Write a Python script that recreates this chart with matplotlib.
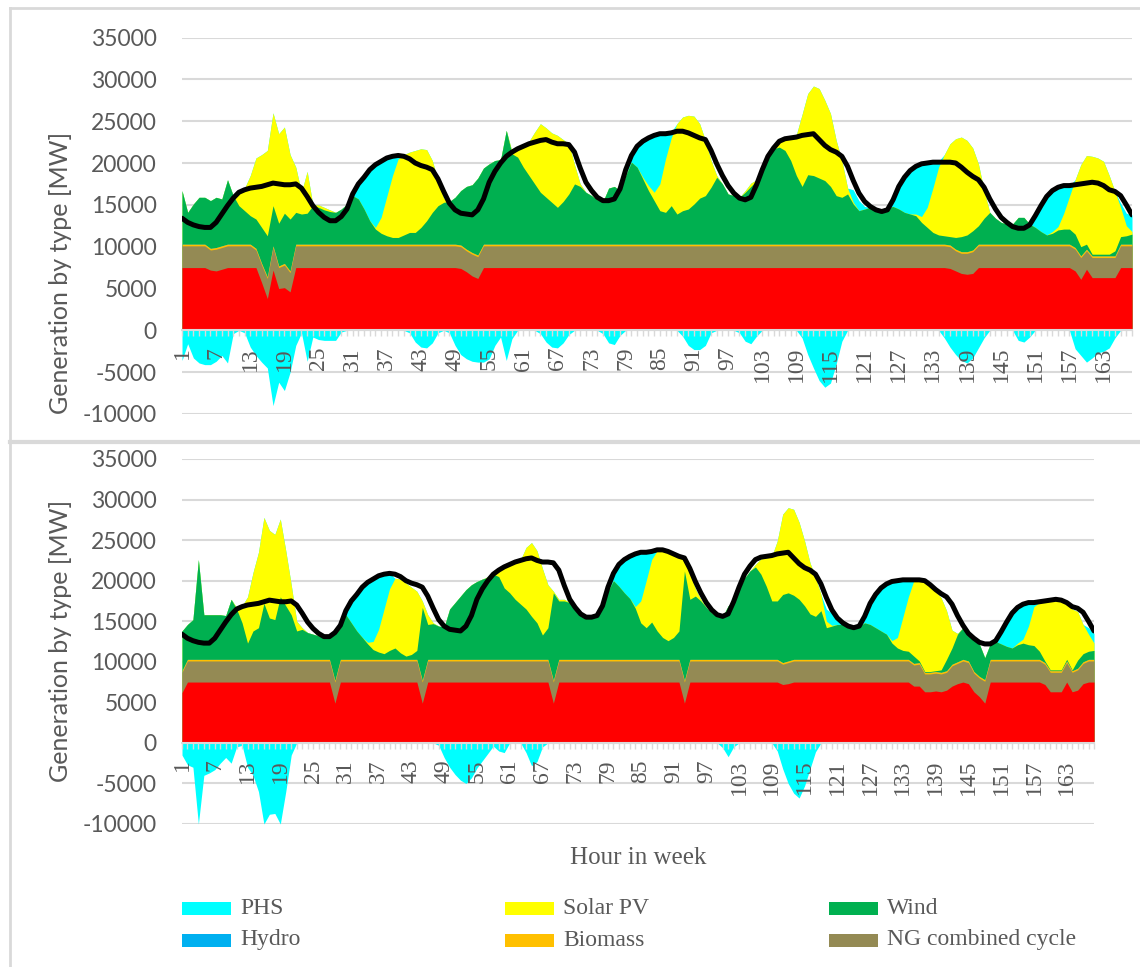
import numpy as np
import matplotlib
matplotlib.use("Agg")
import matplotlib.pyplot as plt
from matplotlib.patches import Rectangle
from matplotlib.lines import Line2D

W, H, DPI = 1140, 967, 100

hours = list(range(1, 169))
tick_hours = list(range(1, 169, 6))
y_ticks = list(range(-10000, 35001, 5000))

# Hourly demand (MW), same week for both scenarios
demand = [
    13400, 12900, 12600, 12400, 12300, 12300, 12900, 13900, 14900, 15800, 16500, 16800,
    17000, 17100, 17200, 17400, 17600, 17500, 17400, 17400, 17500, 17000, 16000, 14900,
    14100, 13500, 13100, 13100, 13600, 14500, 16300, 17500, 18300, 19200, 19800, 20200,
    20600, 20800, 20900, 20800, 20500, 20000, 19700, 19500, 19200, 18100, 16600, 15200,
    14400, 14000, 13900, 13800, 14400, 15700, 17700, 19000, 20000, 20800, 21300, 21700,
    22000, 22300, 22500, 22700, 22800, 22500, 22300, 22300, 22200, 21300, 19400, 17700,
    16700, 15900, 15500, 15500, 15700, 16900, 19200, 20900, 22000, 22600, 23000, 23300,
    23500, 23500, 23600, 23800, 23800, 23600, 23300, 23000, 22800, 21500, 19900, 18500,
    17300, 16400, 15800, 15600, 15900, 17400, 19200, 20800, 21800, 22600, 22900, 23000,
    23100, 23300, 23400, 23500, 22800, 22100, 21600, 21300, 20800, 19600, 17900, 16400,
    15400, 14800, 14400, 14200, 14400, 15600, 17200, 18300, 19100, 19600, 19900, 20000,
    20100, 20100, 20100, 20100, 20000, 19500, 18900, 18400, 18000, 17100, 15700, 14500,
    13500, 12900, 12400, 12200, 12200, 12600, 13700, 14900, 16000, 16700, 17100, 17300,
    17300, 17400, 17500, 17600, 17700, 17600, 17300, 16800, 16600, 16100, 15000, 13800,
]

biomass = [200] * 168
hydro = [0] * 168

# ---------------- Scenario A (upper chart) ----------------
nuclear_a = [
    7500, 7500, 7500, 7500, 7500, 7200, 7100, 7300, 7500, 7500, 7500, 7500,
    7500, 7500, 5700, 3800, 7200, 5000, 5100, 4600, 7500, 7500, 7500, 7500,
    7500, 7500, 7500, 7500, 7500, 7500, 7500, 7500, 7500, 7500, 7500, 7500,
    7500, 7500, 7500, 7500, 7500, 7500, 7500, 7500, 7500, 7500, 7500, 7500,
    7500, 7400, 7000, 6500, 6200, 7500, 7500, 7500, 7500, 7500, 7500, 7500,
    7500, 7500, 7500, 7500, 7500, 7500, 7500, 7500, 7500, 7500, 7500, 7500,
    7500, 7500, 7500, 7500, 7500, 7500, 7500, 7500, 7500, 7500, 7500, 7500,
    7500, 7500, 7500, 7500, 7500, 7500, 7500, 7500, 7500, 7500, 7500, 7500,
    7500, 7500, 7500, 7500, 7500, 7500, 7500, 7500, 7500, 7500, 7500, 7500,
    7500, 7500, 7500, 7500, 7500, 7500, 7500, 7500, 7500, 7500, 7500, 7500,
    7500, 7500, 7500, 7500, 7500, 7500, 7500, 7500, 7500, 7500, 7500, 7500,
    7500, 7500, 7500, 7400, 7100, 6800, 6700, 6800, 7500, 7500, 7500, 7500,
    7500, 7500, 7500, 7500, 7500, 7500, 7500, 7500, 7500, 7500, 7500, 7500,
    7500, 7100, 6100, 7300, 6300, 6300, 6300, 6300, 6300, 7500, 7500, 7500,
]
ng_a = [
    2600, 2600, 2600, 2600, 2600, 2400, 2600, 2600, 2600, 2600, 2600, 2600,
    2600, 2100, 2100, 2400, 2700, 2500, 2700, 2300, 2600, 2600, 2600, 2600,
    2600, 2600, 2600, 2600, 2600, 2600, 2600, 2600, 2600, 2600, 2600, 2600,
    2600, 2600, 2600, 2600, 2600, 2600, 2600, 2600, 2600, 2600, 2600, 2600,
    2600, 2600, 2500, 2600, 2600, 2600, 2600, 2600, 2600, 2600, 2600, 2600,
    2600, 2600, 2600, 2600, 2600, 2600, 2600, 2600, 2600, 2600, 2600, 2600,
    2600, 2600, 2600, 2600, 2600, 2600, 2600, 2600, 2600, 2600, 2600, 2600,
    2600, 2600, 2600, 2600, 2600, 2600, 2600, 2600, 2600, 2600, 2600, 2600,
    2600, 2600, 2600, 2600, 2600, 2600, 2600, 2600, 2600, 2600, 2600, 2600,
    2600, 2600, 2600, 2600, 2600, 2600, 2600, 2600, 2600, 2600, 2600, 2600,
    2600, 2600, 2600, 2600, 2600, 2600, 2600, 2600, 2600, 2600, 2600, 2600,
    2600, 2600, 2600, 2600, 2400, 2400, 2500, 2600, 2600, 2600, 2600, 2600,
    2600, 2600, 2600, 2600, 2600, 2600, 2600, 2600, 2600, 2600, 2600, 2600,
    2600, 2600, 2600, 2200, 2400, 2400, 2400, 2400, 2400, 2600, 2600, 2600,
]
wind_a = [
    6400, 3800, 4800, 5600, 5600, 5700, 6000, 5600, 7700, 5800, 4600, 4000,
    3400, 3500, 4300, 4900, 4800, 5100, 6000, 6200, 3800, 3600, 3700, 4600,
    4400, 4100, 3900, 3800, 4200, 4800, 5800, 5400, 4200, 2800, 1800, 1300,
    1000, 800, 800, 1100, 1400, 1400, 2000, 2800, 3800, 4600, 5000, 5100,
    5600, 6500, 7500, 8100, 9200, 9100, 9600, 10000, 10100, 13600, 10800, 10400,
    9200, 8200, 7200, 6200, 5600, 5000, 4400, 5100, 6000, 7200, 6900, 6200,
    5800, 5300, 5100, 6700, 6900, 6400, 8200, 9800, 9200, 7800, 6400, 5200,
    4000, 3800, 4600, 3600, 4000, 4200, 4800, 5500, 5800, 6800, 8000, 7200,
    6000, 5800, 5600, 6200, 6900, 7600, 9200, 10500, 11400, 11600, 11200, 10000,
    8200, 6900, 8300, 8200, 7900, 7600, 6900, 5800, 5600, 6000, 4800, 4000,
    4200, 4400, 4200, 4200, 4400, 4500, 4200, 3800, 3600, 3400, 2600, 2000,
    1400, 1100, 1000, 1000, 1400, 1800, 2000, 2300, 2200, 3100, 3800, 3100,
    2600, 2400, 2400, 3200, 3200, 2400, 2000, 1500, 1100, 1300, 1700, 1800,
    1800, 1600, 1100, 600, 200, 200, 200, 200, 600, 900, 1000, 1200,
]
solar_a = [
    0, 0, 0, 0, 0, 0, 0, 0, 0, 0, 1400, 2700,
    4800, 7300, 8700, 10200, 11100, 10700, 10300, 7700, 5400, 2600, 5000, 100,
    300, 300, 200, 0, 0, 0, 0, 0, 0, 0, 200, 1900,
    4700, 7400, 9400, 9600, 9600, 9800, 9400, 8500, 6200, 3000, 500, 0,
    0, 0, 0, 0, 0, 0, 0, 0, 0, 0, 300, 1100,
    2600, 4100, 6200, 8200, 8300, 8300, 8600, 7400, 6000, 2300, 300, 0,
    0, 0, 0, 0, 0, 0, 0, 0, 0, 200, 600, 1000,
    3200, 6400, 8100, 10800, 11200, 11200, 10500, 8900, 6600, 3200, 200, 0,
    0, 0, 0, 200, 400, 100, 0, 0, 0, 600, 1400, 2900,
    4900, 8600, 9700, 10700, 10700, 9600, 8700, 6600, 4400, 700, 200, 0,
    0, 0, 0, 0, 0, 0, 0, 0, 0, 200, 700, 2400,
    5300, 8100, 9700, 11100, 11800, 11900, 11300, 9900, 7400, 3300, 0, 0,
    0, 0, 0, 0, 0, 0, 0, 0, 0, 200, 400, 1900,
    3900, 6500, 9800, 10600, 11700, 11500, 11100, 9400, 7100, 3500, 1200, 300,
]
phs_a = [
    -3600, -1600, -3300, -3900, -4100, -4100, -3700, -3000, -3900, -400, 0, -300,
    -2000, -3000, -3800, -4500, -9000, -6200, -7200, -5000, -1800, -300, -3700, -800,
    -1100, -1200, -1200, -1200, -200, 0, 0, 1800, 3800, 6000, 7400, 6600,
    4500, 2300, 400, 0, -300, -1400, -2000, -2100, -1500, -300, 0, -300,
    -1800, -2900, -3400, -3700, -3800, -3800, -3400, -1800, -800, -3600, -1000, 0,
    0, 0, 0, -400, -1400, -2000, -2100, -1500, -500, 0, 0, 0,
    0, 0, -400, -1500, -1700, -600, 0, 800, 2600, 4400, 5800, 6900,
    6000, 3000, 700, 0, -700, -1800, -2300, -2300, -1800, -300, 0, 0,
    0, 0, -300, -1300, -1600, -700, 0, 0, 0, 0, 0, 0,
    0, -900, -2900, -4500, -6000, -6800, -6300, -4000, -1300, 0, 1500, 1200,
    300, 0, 0, 0, 0, 1300, 3000, 4400, 5200, 5700, 6300, 5400,
    3200, 700, -900, -2000, -2900, -3600, -3900, -3300, -2100, -900, 0, 0,
    0, 0, 0, -1200, -1400, -800, 1600, 3300, 4700, 5000, 4800, 3300,
    1300, -2200, -3000, -3800, -3300, -2700, -2500, -2100, -900, 500, 1500, 2000,
]

# ---------------- Scenario B (lower chart) ----------------
nuclear_b = [
    6200, 7500, 7500, 7500, 7500, 7500, 7500, 7500, 7500, 7500, 7500, 7500,
    7500, 7500, 7500, 7500, 7500, 7500, 7500, 7500, 7500, 7500, 7500, 7500,
    7500, 7500, 7500, 7500, 4900, 7500, 7500, 7500, 7500, 7500, 7500, 7500,
    7500, 7500, 7500, 7500, 7500, 7500, 7500, 7500, 4900, 7500, 7500, 7500,
    7500, 7500, 7500, 7500, 7500, 7500, 7500, 7500, 7500, 7500, 7500, 7500,
    7500, 7500, 7500, 7500, 7500, 7500, 7500, 7500, 4900, 7500, 7500, 7500,
    7500, 7500, 7500, 7500, 7500, 7500, 7500, 7500, 7500, 7500, 7500, 7500,
    7500, 7500, 7500, 7500, 7500, 7500, 7500, 7500, 4900, 7500, 7500, 7500,
    7500, 7500, 7500, 7500, 7500, 7500, 7500, 7500, 7500, 7500, 7500, 7500,
    7500, 7500, 7200, 7300, 7500, 7500, 7500, 7500, 7500, 7500, 7500, 7500,
    7500, 7500, 7500, 7500, 7500, 7500, 7500, 7500, 7500, 7500, 7500, 7500,
    7500, 7500, 7000, 7000, 6300, 6300, 6400, 6300, 6500, 7000, 7300, 7500,
    7300, 6300, 5700, 4900, 7500, 7500, 7500, 7500, 7500, 7500, 7500, 7500,
    7500, 7500, 7200, 6300, 6300, 6300, 7500, 6300, 6500, 7300, 7500, 7500,
]
ng_b = [
    2500, 2600, 2600, 2600, 2600, 2600, 2600, 2600, 2600, 2600, 2600, 2600,
    2600, 2600, 2600, 2600, 2600, 2600, 2600, 2600, 2600, 2600, 2600, 2600,
    2600, 2600, 2600, 2600, 2600, 2600, 2600, 2600, 2600, 2600, 2600, 2600,
    2600, 2600, 2600, 2600, 2600, 2600, 2600, 2600, 2600, 2600, 2600, 2600,
    2600, 2600, 2600, 2600, 2600, 2600, 2600, 2600, 2600, 2600, 2600, 2600,
    2600, 2600, 2600, 2600, 2600, 2600, 2600, 2600, 2600, 2600, 2600, 2600,
    2600, 2600, 2600, 2600, 2600, 2600, 2600, 2600, 2600, 2600, 2600, 2600,
    2600, 2600, 2600, 2600, 2600, 2600, 2600, 2600, 2600, 2600, 2600, 2600,
    2600, 2600, 2600, 2600, 2600, 2600, 2600, 2600, 2600, 2600, 2600, 2600,
    2600, 2600, 2500, 2600, 2600, 2600, 2600, 2600, 2600, 2600, 2600, 2600,
    2600, 2600, 2600, 2600, 2600, 2600, 2600, 2600, 2600, 2600, 2600, 2600,
    2600, 2600, 2600, 2700, 2200, 2200, 2200, 2200, 2200, 2500, 2500, 2600,
    2600, 2300, 2300, 2700, 2600, 2600, 2600, 2600, 2600, 2600, 2600, 2600,
    2600, 2600, 2500, 2400, 2400, 2400, 2400, 2400, 2500, 2500, 2600, 2600,
]
wind_b = [
    4900, 4300, 4900, 12300, 5500, 5500, 5500, 5500, 5400, 7400, 6200, 4500,
    2000, 3500, 3900, 6900, 5100, 4900, 7700, 6600, 5500, 3500, 3700, 3300,
    3100, 2900, 2800, 2800, 5700, 3900, 5500, 4500, 3500, 2700, 1900, 1200,
    900, 700, 1100, 1400, 800, 400, 600, 1100, 9000, 4300, 4400, 4100,
    4000, 6200, 7000, 7800, 8600, 9200, 9600, 9900, 10100, 10500, 10200, 8800,
    8200, 7400, 6800, 6200, 5300, 4500, 3000, 3900, 10800, 7200, 7200, 7000,
    6400, 5600, 5300, 5200, 5500, 6400, 8400, 9700, 9000, 8200, 7500, 6300,
    4500, 3900, 4600, 3500, 2700, 2300, 2700, 3500, 13500, 7400, 7800, 7200,
    6400, 5700, 5300, 5300, 6600, 7200, 8600, 10000, 10900, 11400, 10500, 9000,
    7200, 7200, 8400, 8400, 7900, 7400, 6600, 5600, 5300, 6000, 3900, 4100,
    4300, 4300, 4100, 3900, 4100, 4500, 4300, 3900, 3500, 3100, 2000, 1400,
    1100, 1000, 900, 200, 100, 100, 100, 300, 1400, 2000, 3400, 3900,
    3700, 4200, 4000, 2700, 1900, 2200, 1900, 1600, 1400, 1800, 2000, 1800,
    1700, 1000, 200, 100, 100, 100, 200, 100, 1000, 1000, 1000, 1100,
]
solar_b = [
    0, 0, 0, 0, 0, 0, 0, 0, 0, 0, 200, 2100,
    5700, 7200, 9300, 10600, 10800, 10500, 9600, 6800, 3700, 1200, 200, 0,
    0, 0, 0, 0, 0, 0, 0, 0, 0, 0, 200, 1000,
    2800, 5500, 7600, 8600, 9100, 9000, 8300, 7300, 800, 1200, 100, 0,
    0, 0, 0, 0, 0, 0, 0, 0, 100, 300, 1000, 2700,
    3600, 4700, 5500, 7600, 9100, 8900, 8200, 5300, 200, 200, 200, 0,
    0, 0, 0, 0, 0, 0, 0, 0, 0, 0, 0, 200,
    2700, 5800, 7700, 9900, 10900, 11100, 10300, 9100, 1400, 3300, 900, 200,
    0, 0, 0, 0, 0, 0, 0, 0, 0, 300, 1900, 3500,
    5500, 7400, 9900, 10500, 10600, 9500, 8000, 6300, 4800, 2000, 800, 100,
    0, 0, 0, 0, 0, 0, 0, 0, 0, 0, 300, 1300,
    4100, 6700, 9300, 10000, 11200, 10500, 9800, 8900, 6000, 2200, 100, 0,
    0, 0, 0, 0, 0, 0, 0, 0, 0, 200, 500, 2300,
    4800, 6000, 7200, 8500, 8500, 8500, 6900, 7500, 6000, 3600, 2100, 900,
]
phs_b = [
    -1500, -2700, -3000, -10000, -4000, -3700, -3300, -2500, -1800, -2500, -500, -300,
    -3000, -4000, -6000, -10000, -8800, -8700, -10000, -6000, -1500, 0, 0, 0,
    0, 0, 0, 0, 0, 0, 700, 2700, 4600, 6300, 7500, 7800,
    6700, 4400, 1900, 0, 0, 0, 0, 0, 0, 0, 0, -300,
    -1800, -3000, -3900, -4600, -5000, -4300, -3100, -2200, -1300, -400, -1000, -1200,
    0, 0, 0, -1200, -2800, -2300, -500, 0, 0, 0, 0, 0,
    0, 0, 0, 0, 0, 0, 600, 1000, 2700, 4100, 5200, 6500,
    6000, 3500, 1000, 0, 0, 0, 0, 0, 0, 0, 0, 0,
    0, 0, 0, -600, -1700, -500, 0, 0, 0, 0, 0, 0,
    0, -1000, -3200, -5000, -6200, -6800, -5300, -3200, -1100, 0, 1500, 1500,
    500, 0, 0, 0, 0, 400, 2300, 4000, 5300, 6200, 7300, 7000,
    4500, 2000, 0, 0, 0, 0, 0, 0, 0, 0, 0, 0,
    0, 0, 0, 0, 0, 100, 1400, 2900, 4100, 4300, 4300, 2800,
    500, 0, 0, 0, 0, 0, 0, 0, 0, 0, 800, 1200,
]

legend_labels = ["PHS", "Solar PV", "Wind", "Hydro", "Biomass", "NG combined cycle"]

C_NUC = "#FF0000"
C_NG = "#948A54"
C_BIO = "#FFC000"
C_HYD = "#00B0F0"
C_WIND = "#00B050"
C_SOLAR = "#FFFF00"
C_PHS = "#00FFFF"
GRID = "#D9D9D9"
TXT = "#595959"

legend_colors = [C_PHS, C_SOLAR, C_WIND, C_HYD, C_BIO, C_NG]

fig = plt.figure(figsize=(W / DPI, H / DPI), dpi=DPI)


def px_box(x0, x1, y_top, y_bot):
    return [x0 / W, 1 - y_bot / H, (x1 - x0) / W, (y_bot - y_top) / H]


def draw_week(ax, nuclear, ng, wind, solar, phs):
    x = np.array(hours)
    phs_arr = np.array(phs, float)
    layers = [nuclear, ng, biomass, hydro, wind, solar, np.clip(phs_arr, 0, None)]
    colors = [C_NUC, C_NG, C_BIO, C_HYD, C_WIND, C_SOLAR, C_PHS]
    tops = np.cumsum(np.array(layers, float), axis=0)
    # paint from the top of the stack downward so adjacent layers share no seams
    for top, c in reversed(list(zip(tops, colors))):
        ax.fill_between(x, 0, top, color=c, lw=0, zorder=1)
    ax.fill_between(x, 0, np.clip(phs_arr, None, 0), color=C_PHS, lw=0, zorder=1)
    ax.plot(x, demand, color="black", lw=3.6, solid_joinstyle="round",
            solid_capstyle="round", zorder=4)

    for yv in y_ticks:
        ax.axhline(yv, color=GRID, lw=1.5, zorder=0)

    ax.set_xlim(1, 168)
    ax.set_ylim(-10000, 35000)
    for s in ("top", "right", "left"):
        ax.spines[s].set_visible(False)
    ax.spines["bottom"].set_position(("data", 0))
    ax.spines["bottom"].set_color(GRID)
    ax.spines["bottom"].set_linewidth(1.5)

    ax.set_xticks(hours)
    ax.set_xticklabels([str(h) if h in tick_hours else "" for h in hours])
    ax.tick_params(axis="x", length=4.5, width=1.0, color=GRID, pad=7.5,
                   labelsize=17, labelcolor=TXT, labelrotation=90)
    for lbl in ax.get_xticklabels():
        lbl.set_fontfamily("Liberation Serif")

    ax.set_yticks(y_ticks)
    ax.set_yticklabels([str(v) for v in y_ticks])
    ax.tick_params(axis="y", length=0, pad=18, labelsize=16.5, labelcolor=TXT)
    for lbl in ax.get_yticklabels():
        lbl.set_fontfamily("Lato")
    ax.patch.set_alpha(0)


ax_a = fig.add_axes(px_box(182, 1132, 37.5, 414))
draw_week(ax_a, nuclear_a, ng_a, wind_a, solar_a, phs_a)

ax_b = fig.add_axes(px_box(182, 1094, 459, 824))
draw_week(ax_b, nuclear_b, ng_b, wind_b, solar_b, phs_b)

fig.text(61 / W, 1 - 273 / H, "Generation by type [MW]", rotation=90,
         ha="center", va="center", fontsize=18, color=TXT, family="Lato")
fig.text(61 / W, 1 - 641 / H, "Generation by type [MW]", rotation=90,
         ha="center", va="center", fontsize=18, color=TXT, family="Lato")
fig.text(638 / W, 1 - 858 / H, "Hour in week", ha="center", va="center",
         fontsize=18, color=TXT, family="Liberation Serif")

# legend, three columns by two rows
col_x = [182, 505, 829]
row_y = [908, 940]
for i, (lab, col) in enumerate(zip(legend_labels, legend_colors)):
    cx = col_x[i % 3]
    cy = row_y[i // 3]
    fig.patches.append(Rectangle((cx / W, 1 - (cy + 6.5) / H), 49 / W, 13 / H,
                                 transform=fig.transFigure, facecolor=col,
                                 edgecolor="none"))
    fig.text((cx + 58) / W, 1 - cy / H, lab, ha="left", va="center",
             fontsize=17, color=TXT, family="Liberation Serif")

# chart frames
frame_kw = dict(transform=fig.transFigure, color=GRID, lw=2)
fig.lines.append(Line2D([10 / W, 1], [1 - 8 / H, 1 - 8 / H], **frame_kw))
fig.lines.append(Line2D([10 / W, 10 / W], [1 - 8 / H, 0], **frame_kw))
fig.lines.append(Line2D([10 / W, 1], [1 - 442 / H, 1 - 442 / H], color=GRID, lw=3,
                        transform=fig.transFigure))

fig.savefig("out.png", dpi=DPI)
